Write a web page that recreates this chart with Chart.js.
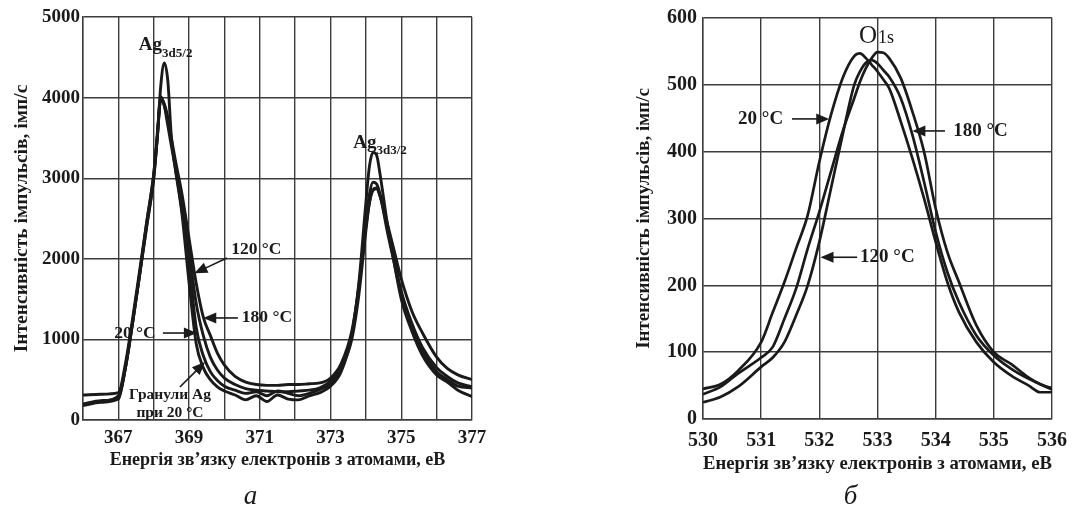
<!DOCTYPE html>
<html><head><meta charset="utf-8">
<script src="https://cdn.jsdelivr.net/npm/chart.js@4.4.0/dist/chart.umd.min.js"></script>
<style>
html,body{margin:0;padding:0;background:#fff;}
#wrap{position:relative;width:1077px;height:508px;overflow:hidden;background:#fff;}
canvas{position:absolute;top:0;}
</style></head><body>
<div id="wrap">
<canvas id="cA" width="540" height="508" style="left:0"></canvas>
<canvas id="cB" width="487" height="508" style="left:590px"></canvas>
</div>
<script>
// ---------- Panel а : Ag 3d spectra ----------
const agEnergy = [366, 366.5, 367, 367.2, 367.4, 367.6, 367.8, 368, 368.1, 368.2, 368.3, 368.4, 368.5, 368.6, 368.8, 369, 369.2, 369.4, 369.6, 369.8, 370, 370.3, 370.6, 370.9, 371.2, 371.5, 371.8, 372.1, 372.4, 372.7, 373, 373.3, 373.6, 373.8, 374, 374.1, 374.2, 374.3, 374.4, 374.6, 374.8, 375, 375.3, 375.6, 376, 376.3, 376.6, 377];
const agGranules = [200, 240, 280, 650, 1200, 1800, 2450, 3050, 3500, 4150, 4430, 4200, 3500, 3150, 2550, 1700, 950, 650, 500, 410, 360, 310, 250, 300, 230, 310, 260, 250, 300, 340, 420, 600, 1050, 1700, 2700, 3150, 3320, 3290, 3050, 2450, 1950, 1500, 1100, 800, 560, 470, 370, 290];
const agT20 = [310, 320, 340, 700, 1250, 1850, 2450, 3050, 3550, 4010, 3900, 3650, 3400, 3150, 2600, 1950, 1150, 800, 600, 490, 420, 370, 330, 350, 300, 360, 330, 300, 330, 380, 450, 650, 1050, 1650, 2450, 2800, 2950, 2930, 2800, 2350, 1950, 1550, 1150, 850, 600, 500, 420, 400];
const agT120 = [180, 220, 260, 650, 1200, 1800, 2400, 3000, 3500, 3980, 3900, 3700, 3450, 3200, 2700, 2100, 1450, 1050, 780, 620, 520, 440, 390, 370, 360, 350, 350, 360, 370, 400, 480, 650, 1000, 1550, 2350, 2700, 2860, 2880, 2780, 2400, 2000, 1600, 1200, 900, 650, 540, 460, 410];
const agT180 = [190, 230, 300, 650, 1200, 1800, 2400, 3000, 3500, 3990, 3920, 3750, 3500, 3250, 2800, 2250, 1700, 1280, 1050, 830, 680, 540, 470, 440, 430, 430, 440, 440, 450, 460, 520, 700, 1100, 1650, 2400, 2700, 2850, 2870, 2780, 2450, 2100, 1750, 1350, 1080, 780, 640, 560, 500];
const agXTicks = [367, 369, 371, 373, 375, 377];
const agYTicks = [0, 1000, 2000, 3000, 4000, 5000];

// ---------- Panel б : O 1s spectra ----------
const oEnergy = [530, 530.3, 530.6, 531, 531.2, 531.4, 531.6, 531.8, 532, 532.2, 532.4, 532.6, 532.7, 532.8, 532.9, 533, 533.1, 533.2, 533.4, 533.6, 533.8, 534, 534.2, 534.4, 534.7, 535, 535.3, 535.6, 535.8, 536];
const oT20 = [45, 52, 72, 115, 160, 205, 255, 305, 385, 455, 510, 543, 547, 540, 530, 520, 508, 495, 445, 390, 330, 265, 205, 160, 115, 85, 65, 50, 40, 40];
const oT120 = [25, 33, 48, 78, 92, 115, 155, 200, 265, 345, 425, 500, 520, 533, 537, 532, 522, 512, 480, 425, 355, 280, 220, 175, 125, 95, 75, 60, 52, 44];
const oT180 = [37, 48, 68, 92, 108, 150, 195, 255, 310, 370, 430, 480, 505, 525, 540, 549, 548, 540, 510, 460, 400, 315, 250, 205, 140, 100, 82, 62, 52, 46];
const oXTicks = [530, 531, 532, 533, 534, 535, 536];
const oYTicks = [0, 100, 200, 300, 400, 500, 600];

const SERIF = "'Liberation Serif','Times New Roman',serif";
const INK = '#1a1a1a';
const GRID = '#3c3c3c';

const pts = (xs, ys) => xs.map((x, i) => ({x, y: ys[i]}));

const annotate = {
  id: 'annotate',
  afterDraw(chart, args, opts) {
    const {ctx, chartArea} = chart;
    const sx = chart.scales.x, sy = chart.scales.y;
    const P = (v) => [sx.getPixelForValue(v[0]), sy.getPixelForValue(v[1])];
    ctx.save();
    ctx.fillStyle = INK; ctx.strokeStyle = INK;
    for (const a of (opts.items || [])) {
      if (a.type === 'arrow') {
        const [x1, y1] = P(a.from), [x2, y2] = P(a.to);
        const ang = Math.atan2(y2 - y1, x2 - x1);
        const L = 13, W = 5.5;
        ctx.lineWidth = 1.6;
        ctx.beginPath(); ctx.moveTo(x1, y1);
        ctx.lineTo(x2 - Math.cos(ang) * L * 0.8, y2 - Math.sin(ang) * L * 0.8); ctx.stroke();
        ctx.beginPath();
        ctx.moveTo(x2, y2);
        ctx.lineTo(x2 - Math.cos(ang) * L - Math.sin(ang) * W, y2 - Math.sin(ang) * L + Math.cos(ang) * W);
        ctx.lineTo(x2 - Math.cos(ang) * L + Math.sin(ang) * W, y2 - Math.sin(ang) * L - Math.cos(ang) * W);
        ctx.closePath(); ctx.fill();
      } else if (a.type === 'text') {
        const [x, y] = P(a.at);
        ctx.font = a.font; ctx.textAlign = a.align || 'center'; ctx.textBaseline = 'middle';
        ctx.fillText(a.text, x, y);
      } else if (a.type === 'sub') {
        const [x, y] = P(a.at);
        ctx.textAlign = 'left'; ctx.textBaseline = 'alphabetic';
        ctx.font = a.font; ctx.fillText(a.text, x, y);
        const w = ctx.measureText(a.text).width;
        ctx.font = a.subFont; ctx.fillText(a.sub, x + w + (a.gap || 0), y + a.drop);
      }
    }
    if (opts.panel) {
      ctx.font = 'italic 27px ' + SERIF; ctx.textAlign = 'center'; ctx.textBaseline = 'middle';
      ctx.fillText(opts.panel, (chartArea.left + chartArea.right) / 2 - 27, 497);
    }
    ctx.restore();
  }
};

function lineSet(data, label, w) {
  return {label, data, borderColor: INK, borderWidth: w, pointRadius: 0, fill: false,
          cubicInterpolationMode: 'monotone'};
}

function makeChart(id, cfg) {
  return new Chart(document.getElementById(id), {
    type: 'line',
    data: {datasets: cfg.datasets},
    plugins: [annotate],
    options: {
      responsive: false, animation: false,
      layout: {padding: cfg.padding},
      plugins: {legend: {display: false}, tooltip: {enabled: false}, annotate: {items: cfg.items, panel: cfg.panel}},
      scales: {
        x: {
          type: 'linear', min: cfg.xMin, max: cfg.xMax,
          afterFit: s => { s.height = cfg.xH; },
          afterBuildTicks: s => { s.ticks = cfg.xGrid.map(v => ({value: v})); },
          grid: {color: GRID, lineWidth: 1.4, drawTicks: false},
          border: {color: GRID, width: 1.4},
          ticks: {color: INK, padding: cfg.xTickPad, font: {family: SERIF, size: cfg.tickSize, weight: 'bold'},
                  maxRotation: 0, autoSkip: false,
                  callback: v => cfg.xLabels.includes(v) ? String(v) : ''},
          title: {display: true, text: 'Енергія зв’язку електронів з атомами, еВ', color: INK,
                  font: {family: SERIF, size: cfg.xTitleSize, weight: 'bold'}, padding: {top: 0, bottom: cfg.xTitlePad}}
        },
        y: {
          type: 'linear', min: cfg.yMin, max: cfg.yMax,
          afterFit: s => { s.width = cfg.yW; },
          afterBuildTicks: s => { s.ticks = cfg.yLabels.map(v => ({value: v})); },
          grid: {color: GRID, lineWidth: 1.4, drawTicks: false},
          border: {color: GRID, width: 1.4},
          ticks: {color: INK, padding: cfg.yTickPad, font: {family: SERIF, size: cfg.tickSize, weight: 'bold'},
                  callback: v => String(v)},
          title: {display: true, text: 'Інтенсивність імпульсів, імп/с', color: INK,
                  font: {family: SERIF, size: cfg.yTitleSize, weight: 'bold'}, padding: {top: cfg.yTitlePad, bottom: 0}}
        }
      }
    }
  });
}

const agGrid = [];
for (let v = 366; v <= 377; v++) agGrid.push(v);

const T = (s) => 'bold ' + s + 'px ' + SERIF;

makeChart('cA', {
  datasets: [lineSet(pts(agEnergy, agGranules), 'Гранули Ag при 20 °C', 2.9), lineSet(pts(agEnergy, agT20), '20 °C', 2.9),
             lineSet(pts(agEnergy, agT120), '120 °C', 2.9), lineSet(pts(agEnergy, agT180), '180 °C', 2.9)],
  xMin: 366, xMax: 377, yMin: 0, yMax: 5000,
  xGrid: agGrid, xLabels: agXTicks, yLabels: agYTicks,
  padding: {left: 0, top: 17, right: 68, bottom: 36},
  xH: 52, yW: 83, xTickPad: 7, yTickPad: 3, xTitlePad: 1, yTitlePad: 10,
  tickSize: 19, xTitleSize: 18, yTitleSize: 19.5, panel: 'а',
  items: [
    {type: 'sub', at: [367.58, 4590], text: 'Ag', sub: '3d5/2', font: T(19), subFont: T(13), drop: 7},
    {type: 'sub', at: [373.64, 3375], text: 'Ag', sub: '3d3/2', font: T(19), subFont: T(13), drop: 6},
    {type: 'text', at: [370.9, 2110], text: '120 °C', font: T(17.5)},
    {type: 'arrow', from: [370.07, 2010], to: [369.15, 1820]},
    {type: 'text', at: [371.2, 1266], text: '180 °C', font: T(17.5)},
    {type: 'arrow', from: [370.38, 1266], to: [369.4, 1266]},
    {type: 'text', at: [367.47, 1079], text: '20 °C', font: T(17.5)},
    {type: 'arrow', from: [368.26, 1079], to: [369.22, 1079]},
    {type: 'text', at: [368.46, 310], text: 'Гранули Ag', font: T(15.5)},
    {type: 'text', at: [368.46, 87], text: 'при 20 °C', font: T(15.5)},
    {type: 'arrow', from: [368.74, 409], to: [369.45, 720]}
  ]
});

makeChart('cB', {
  datasets: [lineSet(pts(oEnergy, oT20), '20 °C', 2.7), lineSet(pts(oEnergy, oT120), '120 °C', 2.7), lineSet(pts(oEnergy, oT180), '180 °C', 2.7)],
  xMin: 530, xMax: 536, yMin: 0, yMax: 600,
  xGrid: oXTicks, xLabels: oXTicks, yLabels: oYTicks,
  padding: {left: 0, top: 13, right: 18, bottom: 33},
  xH: 56, yW: 113, xTickPad: 10, yTickPad: 6, xTitlePad: 0, yTitlePad: 43,
  tickSize: 20, xTitleSize: 19, yTitleSize: 19, panel: 'б',
  items: [
    {type: 'sub', at: [532.68, 562], text: 'O', sub: '1s', font: '25px ' + SERIF, subFont: '18px ' + SERIF, drop: 0, gap: 1},
    {type: 'text', at: [530.99, 449], text: '20 °C', font: T(19)},
    {type: 'arrow', from: [531.53, 449], to: [532.17, 449]},
    {type: 'text', at: [534.77, 431], text: '180 °C', font: T(19)},
    {type: 'arrow', from: [534.16, 431], to: [533.6, 431]},
    {type: 'text', at: [533.17, 242], text: '120 °C', font: T(19)},
    {type: 'arrow', from: [532.65, 242], to: [532.02, 242]}
  ]
});
</script>
</body></html>
